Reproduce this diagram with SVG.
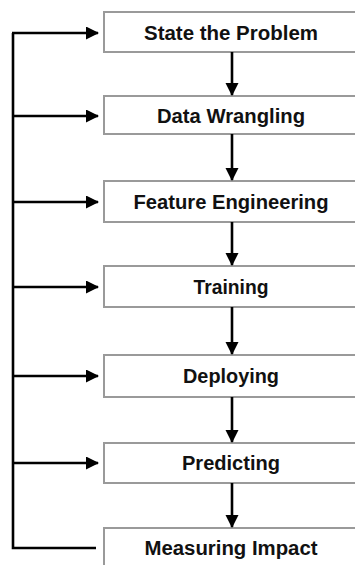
<svg xmlns="http://www.w3.org/2000/svg" width="355" height="565" viewBox="0 0 355 565">
  <style>
    .box { fill: #ffffff; stroke: #9a9a9a; stroke-width: 2; }
    .label { font-family: "Liberation Sans", Arial, Helvetica, sans-serif; font-weight: bold; font-size: 20px; fill: #111111; text-anchor: middle; }
    .link { fill: none; stroke: #000000; stroke-width: 2.6; }
  </style>
  <defs>
    <marker id="head" markerUnits="userSpaceOnUse" markerWidth="13" markerHeight="14" refX="12" refY="6.5" orient="auto">
      <path d="M0,0 L13,6.5 L0,13 Z" fill="#000000"/>
    </marker>
  </defs>

  <rect width="355" height="565" fill="#ffffff"/>

  <!-- pipeline steps -->
  <g id="step-problem">
    <rect class="box" x="104" y="12" width="262" height="40"/>
    <text class="label" x="231" y="40" textLength="174" lengthAdjust="spacingAndGlyphs">State the Problem</text>
  </g>
  <g id="step-wrangling">
    <rect class="box" x="104" y="96" width="262" height="38"/>
    <text class="label" x="231" y="123" textLength="148" lengthAdjust="spacingAndGlyphs">Data Wrangling</text>
  </g>
  <g id="step-features">
    <rect class="box" x="104" y="181" width="262" height="41"/>
    <text class="label" x="231" y="209" textLength="195" lengthAdjust="spacingAndGlyphs">Feature Engineering</text>
  </g>
  <g id="step-training">
    <rect class="box" x="104" y="266" width="262" height="41"/>
    <text class="label" x="231" y="294" textLength="75" lengthAdjust="spacingAndGlyphs">Training</text>
  </g>
  <g id="step-deploying">
    <rect class="box" x="104" y="355" width="262" height="42"/>
    <text class="label" x="231" y="383" textLength="96" lengthAdjust="spacingAndGlyphs">Deploying</text>
  </g>
  <g id="step-predicting">
    <rect class="box" x="104" y="443" width="262" height="40"/>
    <text class="label" x="231" y="470" textLength="98" lengthAdjust="spacingAndGlyphs">Predicting</text>
  </g>
  <g id="step-impact">
    <rect class="box" x="104" y="528" width="262" height="50"/>
    <text class="label" x="231" y="555" textLength="173" lengthAdjust="spacingAndGlyphs">Measuring Impact</text>
  </g>

  <!-- connectors -->
  <g id="connectors">
    <!-- forward flow -->
    <path class="link" marker-end="url(#head)" d="M232,52 V95"/>
    <path class="link" marker-end="url(#head)" d="M232,134 V180"/>
    <path class="link" marker-end="url(#head)" d="M232,222 V265"/>
    <path class="link" marker-end="url(#head)" d="M232,307 V354"/>
    <path class="link" marker-end="url(#head)" d="M232,397 V442"/>
    <path class="link" marker-end="url(#head)" d="M232,483 V527"/>
    <!-- feedback loop -->
    <path class="link" d="M96,548 H13 V33"/>
    <path class="link" marker-end="url(#head)" d="M12,33 H98"/>
    <path class="link" marker-end="url(#head)" d="M13,116 H98"/>
    <path class="link" marker-end="url(#head)" d="M13,202 H98"/>
    <path class="link" marker-end="url(#head)" d="M13,287 H98"/>
    <path class="link" marker-end="url(#head)" d="M13,376 H98"/>
    <path class="link" marker-end="url(#head)" d="M13,463 H98"/>
  </g>
</svg>
